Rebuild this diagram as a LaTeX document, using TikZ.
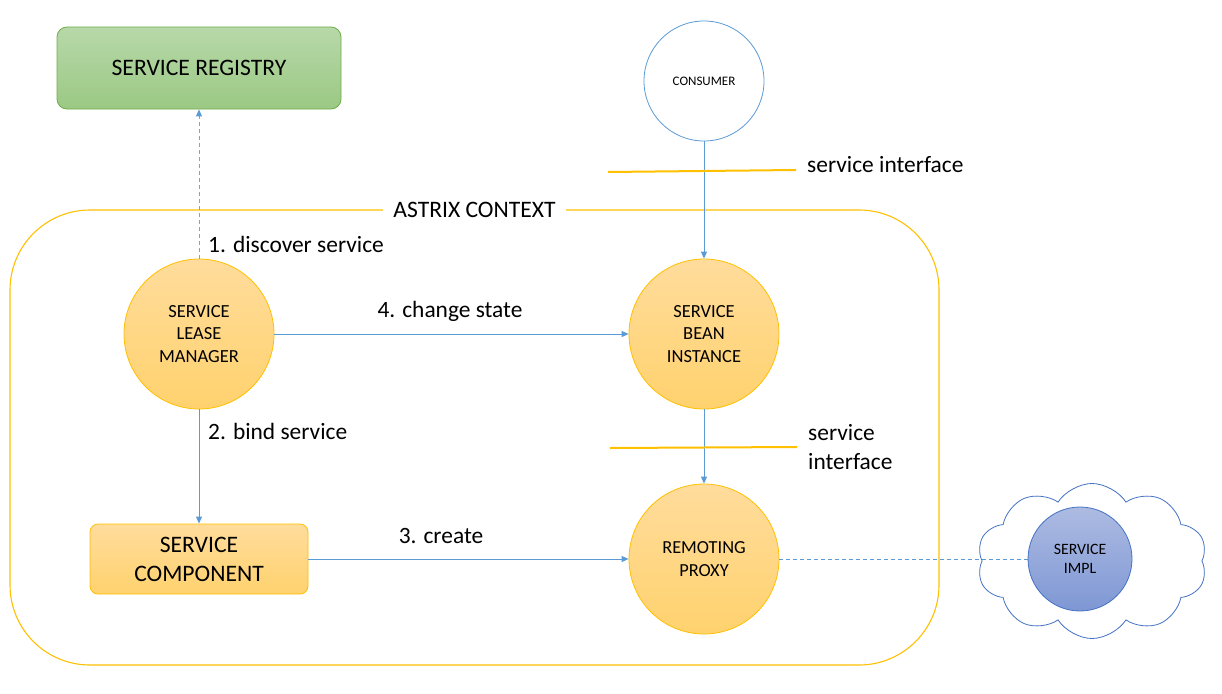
\documentclass[tikz,border=0pt]{standalone}
\usepackage{fontspec}
\setmainfont{Carlito}
\usetikzlibrary{arrows.meta, shapes.symbols, positioning}

\definecolor{linkblue}{HTML}{5B9BD5}
\definecolor{ringorange}{HTML}{FFC000}
\definecolor{beantop}{HTML}{FFDC9C}
\definecolor{beanbottom}{HTML}{FFD26E}
\definecolor{regtop}{HTML}{B7D8A9}
\definecolor{regbottom}{HTML}{9BC984}
\definecolor{regborder}{HTML}{70AD47}
\definecolor{impltop}{HTML}{ADBBE2}
\definecolor{implbottom}{HTML}{7E97D4}
\definecolor{implborder}{HTML}{4472C4}
\definecolor{dashgray}{HTML}{8E9FB8}

\begin{document}
\begin{tikzpicture}[x=1pt, y=-1pt, >={Triangle[length=7pt,width=6pt]},
 bean node/.style={circle, draw=ringorange, line width=0.8pt, top color=beantop,
   bottom color=beanbottom, minimum size=150pt, inner sep=0pt, align=center,
   font=\fontsize{18.5}{22.5}\selectfont},
 link/.style={->, draw=linkblue, line width=0.9pt},
 iface/.style={draw=ringorange, line width=2pt},
 step label/.style={inner sep=0pt, font=\fontsize{23.4}{29}\selectfont, align=left}]

 \useasboundingbox (0,0) rectangle (1222,693);

 % astrix context frame
 \node[draw=ringorange, line width=1.1pt, rounded corners=80pt,
   minimum width=929pt, minimum height=455pt] (context) at (474.5,437.5) {};
 \node[fill=white, inner xsep=10pt, font=\fontsize{23.6}{28}\selectfont]
   (context title) at (context.north) {ASTRIX CONTEXT};

 \node[draw=regborder, line width=0.8pt, rounded corners=10pt, top color=regtop,
   bottom color=regbottom, minimum width=284pt, minimum height=82pt,
   font=\fontsize{23.6}{28}\selectfont] (registry) at (199,68) {SERVICE REGISTRY};

 \node[circle, draw=linkblue, line width=0.8pt, fill=white, minimum size=120pt,
   font=\fontsize{13}{16}\selectfont] (consumer) at (704,81) {CONSUMER};

 \node[bean node] (lease) at (199,334) {SERVICE\\LEASE\\MANAGER};
 \node[bean node] (bean) at (704,334) {SERVICE\\BEAN\\INSTANCE};
 \node[bean node, font=\fontsize{18.4}{23}\selectfont] (proxy) at (704,559) {REMOTING\\PROXY};

 \node[draw=ringorange, line width=0.8pt, rounded corners=8pt, top color=beantop,
   bottom color=beanbottom, minimum width=218pt, minimum height=70pt, align=center,
   font=\fontsize{23.6}{29}\selectfont] (component) at (199,559) {SERVICE\\COMPONENT};

 \node[cloud, cloud puffs=10, cloud puff arc=115, aspect=1.46, draw=implborder,
   line width=0.8pt, fill=white, minimum width=230pt, minimum height=155pt,
   inner sep=0pt] (cloud) at (1092,561) {};

 \draw[linkblue, line width=0.8pt, dash pattern=on 4pt off 3pt] (proxy) -- (1060,559);

 \node[circle, draw=implborder, line width=0.8pt, top color=impltop,
   bottom color=implbottom, minimum size=104pt, inner sep=0pt, align=center,
   font=\fontsize{15.8}{19}\selectfont] (impl) at (1080,559) {SERVICE\\IMPL};

 % connectors
 \draw[draw=dashgray, line width=0.9pt, dash pattern=on 4pt off 3pt,
   -{Triangle[length=7pt,width=6pt,color=linkblue]}] (lease) -- (registry);
 \draw[link] (lease) -- (component);
 \draw[link] (lease) -- (bean);
 \draw[link] (component) -- (proxy);
 \draw[link] (consumer) -- (bean);
 \draw[link] (bean) -- (proxy);

 % service interfaces
 \draw[iface] (608,172) -- (796,170);
 \draw[iface] (610,448) -- (797,447);
 \node[step label, anchor=west] (iface top) at (807,165) {service interface};
 \node[step label, anchor=west] (iface low) at (808,447) {service\\interface};

 % step labels
 \node[step label, anchor=west] (discover) at (208,244) {1. discover service};
 \node[step label, anchor=west] (bind) at (208,431) {2. bind service};
 \node[step label] (create) at (441,536) {3. create};
 \node[step label] (change) at (450,311) {4. change state};
\end{tikzpicture}
\end{document}
